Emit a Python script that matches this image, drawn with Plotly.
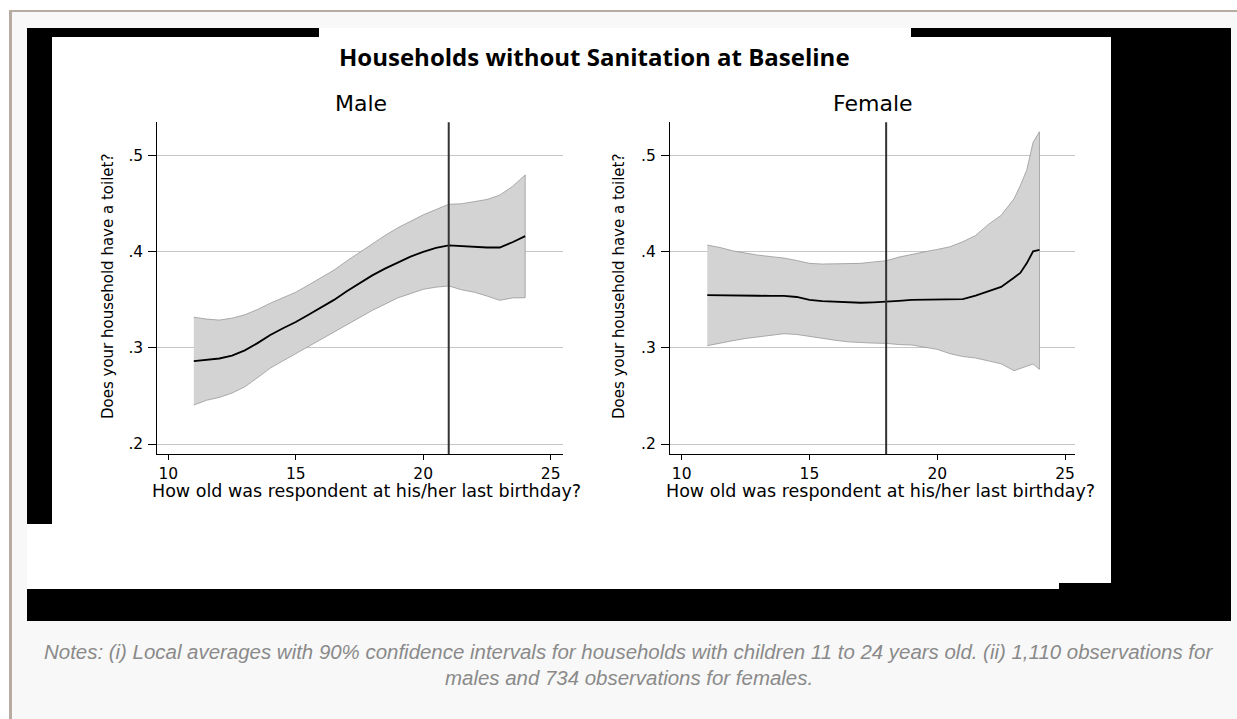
import plotly.graph_objects as go

W, H = 1237, 719

# ---------------- data ----------------
male_age = [11, 11.5, 12, 12.5, 13, 13.5, 14, 14.5, 15, 15.5, 16, 16.5, 17, 17.5,
            18, 18.5, 19, 19.5, 20, 20.5, 21, 21.5, 22, 22.5, 23, 23.5, 24]
male_mean = [0.2863, 0.2875, 0.289, 0.292, 0.2975, 0.305, 0.3135, 0.3205, 0.327, 0.3345,
             0.3425, 0.350, 0.359, 0.3675, 0.3755, 0.3825, 0.389, 0.395, 0.400, 0.404,
             0.4068, 0.4058, 0.405, 0.4045, 0.4045, 0.410, 0.4164]
male_upper = [0.332, 0.330, 0.329, 0.331, 0.3345, 0.340, 0.3465, 0.352, 0.358, 0.3655,
              0.373, 0.381, 0.3905, 0.3995, 0.4085, 0.417, 0.425, 0.432, 0.4385, 0.444,
              0.4495, 0.450, 0.452, 0.4545, 0.459, 0.468, 0.480]
male_lower = [0.2405, 0.2455, 0.2485, 0.253, 0.2595, 0.269, 0.279, 0.2865, 0.2945, 0.302,
              0.3095, 0.3165, 0.324, 0.3315, 0.339, 0.3455, 0.352, 0.3565, 0.361, 0.3632,
              0.3645, 0.3605, 0.358, 0.354, 0.3495, 0.352, 0.3522]

female_age = [11, 11.5, 12, 12.5, 13, 13.5, 14, 14.5, 15, 15.5, 16, 16.5, 17, 17.5,
              18, 18.5, 19, 19.5, 20, 20.5, 21, 21.5, 22, 22.5, 23, 23.25, 23.5, 23.75, 24]
female_mean = [0.355, 0.355, 0.355, 0.3545, 0.3543, 0.3542, 0.3541, 0.353, 0.350, 0.3488,
               0.348, 0.3472, 0.347, 0.3475, 0.348, 0.349, 0.350, 0.3502, 0.3498, 0.3502,
               0.3508, 0.3545, 0.359, 0.3635, 0.373, 0.378, 0.388, 0.4005, 0.402]
female_upper = [0.407, 0.4045, 0.401, 0.3985, 0.3965, 0.395, 0.3935, 0.391, 0.388, 0.3873,
                0.3873, 0.3873, 0.388, 0.3895, 0.3907, 0.3945, 0.3975, 0.400, 0.4025, 0.4053,
                0.4105, 0.417, 0.4285, 0.438, 0.455, 0.469, 0.485, 0.514, 0.525]
female_lower = [0.3023, 0.305, 0.3075, 0.3098, 0.3115, 0.3132, 0.3148, 0.314, 0.3115, 0.3098,
                0.308, 0.3063, 0.3055, 0.305, 0.3047, 0.3035, 0.303, 0.301, 0.2985, 0.294,
                0.291, 0.2895, 0.2866, 0.2835, 0.2763, 0.278, 0.2808, 0.2832, 0.2777]

male_cutoff = 21
female_cutoff = 18

x_ticks = [10, 15, 20, 25]
y_ticks = [0.2, 0.3, 0.4, 0.5]
y_ticktext = [".2", ".3", ".4", ".5"]

title_text = "Households without Sanitation at Baseline"
panel_titles = ["Male", "Female"]
x_title = "How old was respondent at his/her last birthday?"
y_title = "Does your household have a toilet?"
note_line1 = ("Notes: (i) Local averages with 90% confidence intervals for households with "
              "children 11 to 24 years old. (ii) 1,110 observations for")
note_line2 = "males and 734 observations for females."

# ---------------- helpers ----------------
def px(x):
    return x / W


def py(y):
    return 1 - y / H


FONT = "DejaVu Sans"
BAND_FILL = "#d3d3d3"
BAND_EDGE = "#8e8e8e"

fig = go.Figure()

panels = [
    (male_age, male_mean, male_upper, male_lower, "x", "y"),
    (female_age, female_mean, female_upper, female_lower, "x2", "y2"),
]
for age, mean, up, lo, xa, ya in panels:
    fig.add_trace(go.Scatter(
        x=list(age) + list(age)[::-1], y=list(up) + list(lo)[::-1],
        fill="toself", fillcolor=BAND_FILL, mode="lines",
        line=dict(color=BAND_EDGE, width=0.7), hoverinfo="skip",
        showlegend=False, xaxis=xa, yaxis=ya))
    fig.add_trace(go.Scatter(
        x=age, y=mean, mode="lines", line=dict(color="black", width=1.8),
        showlegend=False, xaxis=xa, yaxis=ya))

shapes = []
# cutoff lines
for cut, xr, yr in [(male_cutoff, "x", "y domain"), (female_cutoff, "x2", "y2 domain")]:
    shapes.append(dict(type="line", xref=xr, yref=yr, x0=cut, x1=cut, y0=0, y1=1,
                       line=dict(color="#333333", width=2), layer="above"))

axis_common = dict(showline=True, linecolor="black", linewidth=1, ticks="outside",
                   tickcolor="black", tickwidth=1, zeroline=False,
                   tickfont=dict(family=FONT, size=15.5, color="black"))

y_top, y_bot = 122.3, 454
fig.update_layout(
    xaxis=dict(domain=[px(157.3), px(562.7)], range=[9.568, 25.471], tickvals=x_ticks,
               ticklen=5, showgrid=False, anchor="y", **axis_common),
    yaxis=dict(domain=[py(y_bot), py(y_top)], range=[0.1896, 0.5348], tickvals=y_ticks,
               ticktext=y_ticktext, ticklen=8, showgrid=True, gridcolor="#c6c6c6",
               gridwidth=1, anchor="x", ticklabelstandoff=2, **axis_common),
    xaxis2=dict(domain=[px(670), px(1075)], range=[9.542, 25.39], tickvals=x_ticks,
                ticklen=5, showgrid=False, anchor="y2", **axis_common),
    yaxis2=dict(domain=[py(y_bot), py(y_top)], range=[0.1896, 0.5348], tickvals=y_ticks,
                ticktext=y_ticktext, ticklen=8, showgrid=True, gridcolor="#c6c6c6",
                gridwidth=1, anchor="x2", ticklabelstandoff=2, **axis_common),
)


# ---------------- background shapes (screenshot frame) ----------------
def rect(x0, y0, x1, y1, color):
    shapes.append(dict(type="rect", xref="paper", yref="paper", x0=px(x0), x1=px(x1),
                       y0=py(y1), y1=py(y0), fillcolor=color, line=dict(width=0),
                       layer="below"))


rect(0, 0, W, 10, "white")
rect(0, 0, 9, H, "white")
rect(9, 10, W, 12, "#b6aca2")
rect(9, 10, 12, H, "#b6aca2")
rect(27, 28, 1111, 589, "white")
rect(27, 28, 319, 37, "black")
rect(27, 28, 52, 524, "black")
rect(911, 28, 1231, 37, "black")
rect(1111, 28, 1231, 621, "black")
rect(27, 589, 1231, 621, "black")
rect(1059, 583, 1111, 589, "black")

annotations = []


def text(x, y, s, size, family=FONT, color="black", angle=0, **kw):
    annotations.append(dict(text=s, x=px(x), y=py(y), xref="paper", yref="paper",
                            showarrow=False, xanchor="center", yanchor="middle",
                            textangle=angle, font=dict(family=family, size=size, color=color),
                            **kw))


text(594.5, 56.5, title_text, 24, family="Open Sans")
annotations[-1]["font"]["weight"] = "bold"
text(360.5, 104, panel_titles[0], 22)
text(873, 104, panel_titles[1], 22)
text(366.7, 491, x_title, 17.5)
text(880, 491, x_title, 17.5)
text(108, 287, y_title, 15, angle=-90)
text(619, 287, y_title, 15, angle=-90)
text(628.5, 651, note_line1, 20.45, family="Liberation Sans", color="#8a8a8a")
annotations[-1]["font"]["style"] = "italic"
text(628.5, 677.5, note_line2, 20.45, family="Liberation Sans", color="#8a8a8a")
annotations[-1]["font"]["style"] = "italic"

fig.update_layout(
    width=W, height=H, margin=dict(l=0, r=0, t=0, b=0, pad=0),
    paper_bgcolor="#f8f8f8", plot_bgcolor="rgba(0,0,0,0)",
    shapes=shapes, annotations=annotations,
    showlegend=False,
)

fig.write_html("out.html", config={"displayModeBar": False},
               post_script="document.body.style.margin='0';document.body.style.overflow='hidden';")
